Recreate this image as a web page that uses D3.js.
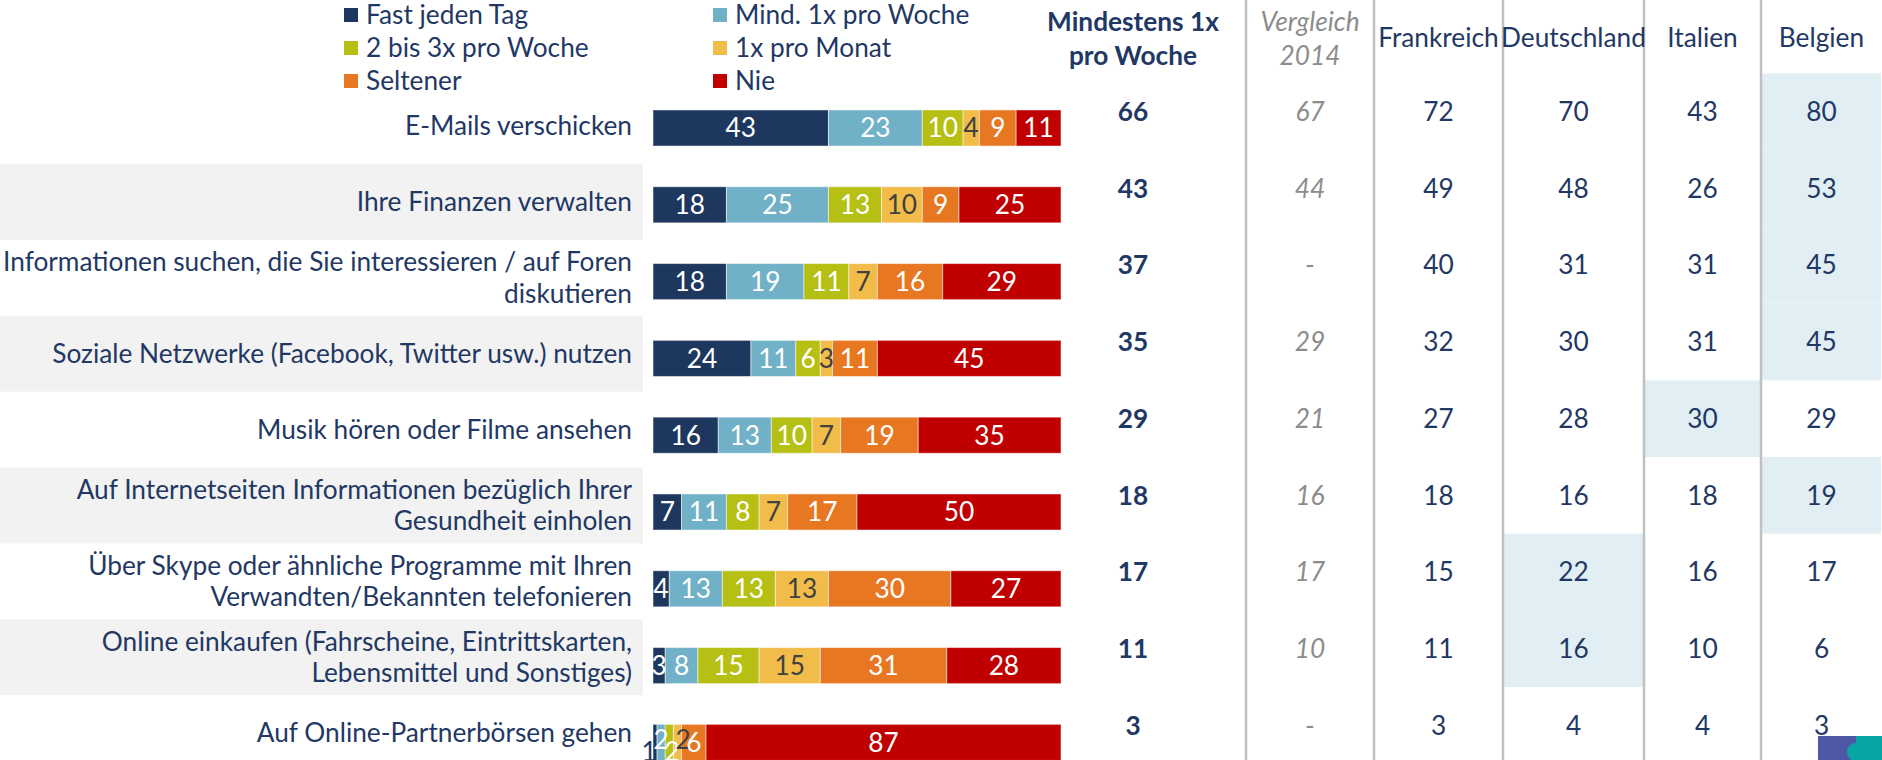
<!DOCTYPE html>
<html>
<head>
<meta charset="utf-8">
<script src="https://cdn.jsdelivr.net/npm/d3@7"></script>
<style>
  body { margin: 0; background: #fff; }
  svg { display: block; font-family: Lato, sans-serif; }
</style>
</head>
<body>
<svg id="chart"></svg>
<script>
// activities (line breaks as in the reference)
const categories = [
  'E-Mails verschicken',
  'Ihre Finanzen verwalten',
  'Informationen suchen, die Sie interessieren / auf Foren\ndiskutieren',
  'Soziale Netzwerke (Facebook, Twitter usw.) nutzen',
  'Musik hören oder Filme ansehen',
  'Auf Internetseiten Informationen bezüglich Ihrer\nGesundheit einholen',
  'Über Skype oder ähnliche Programme mit Ihren\nVerwandten/Bekannten telefonieren',
  'Online einkaufen (Fahrscheine, Eintrittskarten,\nLebensmittel und Sonstiges)',
  'Auf Online-Partnerbörsen gehen'
];

const seriesNames = ['Fast jeden Tag', 'Mind. 1x pro Woche', '2 bis 3x pro Woche', '1x pro Monat', 'Seltener', 'Nie'];
const seriesColors = ['#1d375e', '#71b1c8', '#b6bf14', '#f1bc49', '#e87722', '#c00000'];

const fastJedenTag = [43, 18, 18, 24, 16, 7, 4, 3, 1];
const mind1xWoche  = [23, 25, 19, 11, 13, 11, 13, 8, 2];
const zweiBis3x    = [10, 13, 11, 6, 10, 8, 13, 15, 2];
const einmalMonat  = [4, 10, 7, 3, 7, 7, 13, 15, 2];
const seltener     = [9, 9, 16, 11, 19, 17, 30, 31, 6];
const nie          = [11, 25, 29, 45, 35, 50, 27, 28, 87];

// table on the right
const tableColumns = ['Mindestens 1x\npro Woche', 'Vergleich\n2014', 'Frankreich', 'Deutschland', 'Italien', 'Belgien'];
const mindestens1x  = [66, 43, 37, 35, 29, 18, 17, 11, 3];
const vergleich2014 = [67, 44, null, 29, 21, 16, 17, 10, null];
const frankreich    = [72, 49, 40, 32, 27, 18, 15, 11, 3];
const deutschland   = [70, 48, 31, 30, 28, 16, 22, 16, 4];
const italien       = [43, 26, 31, 31, 30, 18, 16, 10, 4];
const belgien       = [80, 53, 45, 45, 29, 19, 17, 6, 3];
// highest country per row: [row, column]
const highlights = [[0, 5], [1, 5], [2, 5], [3, 5], [4, 4], [5, 5], [6, 3], [7, 3]];

const width = 1882, height = 760;
const navy = '#1f3864', grey = '#8c8c8c';

const svg = d3.select('#chart')
    .attr('width', width)
    .attr('height', height);

// font size: fit the longest label to the reference width
const probe = svg.append('text').attr('font-size', 100)
    .text('Informationen suchen, die Sie interessieren / auf Foren');
const fs = 100 * 629 / probe.node().getComputedTextLength();
probe.remove();

const rows = d3.range(categories.length);
const seriesData = [fastJedenTag, mind1xWoche, zweiBis3x, einmalMonat, seltener, nie];
const tableData = [mindestens1x, vergleich2014, frankreich, deutschland, italien, belgien];

const table = rows.map(i => {
  const d = {row: i};
  seriesNames.forEach((s, k) => d[s] = seriesData[k][i]);
  return d;
});
const stacked = d3.stack().keys(seriesNames)(table);

// scales
const x = d3.scaleLinear().domain([0, 100]).range([653, 1061]);
const yBar = d3.scaleBand().domain(rows).range([89.6, 780.8]).paddingInner(0.53).paddingOuter(0.265);
const yLabel = d3.scaleBand().domain(rows).range([88, 88 + 9 * 75.9]);
const yTable = d3.scaleBand().domain(rows).range([73.5, 73.5 + 9 * 76.7]);
const color = d3.scaleOrdinal().domain(seriesNames).range(seriesColors);
const colEdges = [1020, 1246, 1374, 1503, 1644, 1761, 1882];
const colLeft = d3.scaleOrdinal().domain(d3.range(6)).range(colEdges.slice(0, -1));
const colRight = d3.scaleOrdinal().domain(d3.range(6)).range(colEdges.slice(1));
const colMid = c => (colLeft(c) + colRight(c)) / 2;

// grey bands behind every second label
svg.append('g').selectAll('rect')
    .data(rows.filter(i => i % 2 === 1))
    .join('rect')
    .attr('x', 0)
    .attr('width', 643)
    .attr('y', i => yLabel(i))
    .attr('height', yLabel.bandwidth())
    .attr('fill', '#f2f2f2');

// highlighted table cells
svg.append('g').selectAll('rect')
    .data(highlights)
    .join('rect')
    .attr('x', d => colLeft(d[1]) + 1)
    .attr('width', d => colRight(d[1]) - colLeft(d[1]) - 2)
    .attr('y', d => yTable(d[0]))
    .attr('height', yTable.bandwidth())
    .attr('fill', '#e1eff4');

// column separators
svg.append('g').selectAll('line')
    .data(colEdges.slice(1, -1))
    .join('line')
    .attr('x1', d => d).attr('x2', d => d)
    .attr('y1', 0).attr('y2', height)
    .attr('stroke', '#c0c0c0')
    .attr('stroke-width', 2.5);

// row labels
const labels = svg.append('g')
    .attr('font-size', fs)
    .attr('fill', navy)
    .attr('text-anchor', 'end');
labels.selectAll('text')
    .data(rows)
    .join('text')
    .each(function(i) {
      const lines = categories[i].split('\n');
      const cy = yLabel(i) + yLabel.bandwidth() / 2;
      const lh = fs * 1.2;
      d3.select(this).selectAll('tspan')
          .data(lines)
          .join('tspan')
          .attr('x', 632)
          .attr('y', (l, j) => cy + (j - (lines.length - 1) / 2) * lh)
          .attr('dy', '0.35em')
          .text(l => l);
    });

// stacked bars
svg.append('g').selectAll('g')
    .data(stacked)
    .join('g')
    .attr('fill', d => color(d.key))
  .selectAll('rect')
    .data(d => d)
    .join('rect')
    .attr('x', d => x(d[0]))
    .attr('width', d => x(d[1]) - x(d[0]))
    .attr('y', d => yBar(d.data.row))
    .attr('height', yBar.bandwidth())
    .attr('stroke', '#ffffff')
    .attr('stroke-opacity', 0.5)
    .attr('stroke-width', 1);

// segment labels, tiny segments are dodged so the digits stay readable
const segLabels = [];
rows.forEach(i => {
  let lastX = -Infinity;
  stacked.forEach((s, k) => {
    const v = s[i][1] - s[i][0];
    const tiny = v < 3;
    let lx = (x(s[i][0]) + x(s[i][1])) / 2;
    let dy = 0;
    if (tiny) {
      if (v < 2) lx -= 6;
      lx = Math.max(lx, lastX + 11);
      dy = k % 2 === 0 ? 9 : -3;
    }
    lastX = lx;
    let fill = s.key === '1x pro Monat' ? '#404040' : '#ffffff';
    if (lx < x(0)) fill = navy;
    segLabels.push({x: lx, y: yBar(i) + yBar.bandwidth() / 2 + dy, v: v, fill: fill});
  });
});

svg.append('g')
    .attr('font-size', fs)
    .attr('text-anchor', 'middle')
  .selectAll('text')
    .data(segLabels)
    .join('text')
    .attr('x', d => d.x)
    .attr('y', d => d.y)
    .attr('dy', '0.36em')
    .attr('fill', d => d.fill)
    .text(d => d.v);

// table headers
const headers = svg.append('g').attr('font-size', fs).attr('text-anchor', 'middle');
headers.selectAll('text')
    .data(tableColumns)
    .join('text')
    .attr('fill', (d, c) => c === 1 ? grey : navy)
    .attr('font-weight', (d, c) => c === 0 ? 'bold' : null)
    .attr('font-style', (d, c) => c === 1 ? 'italic' : null)
    .each(function(d, c) {
      const lines = d.split('\n');
      d3.select(this).selectAll('tspan')
          .data(lines)
          .join('tspan')
          .attr('x', colMid(c))
          .attr('y', (l, j) => lines.length === 1 ? 38 : 22 + j * 34)
          .attr('dy', '0.35em')
          .text(l => l);
    });

// table values
const cells = svg.append('g').attr('font-size', fs).attr('text-anchor', 'middle');
tableData.forEach((col, c) => {
  cells.append('g')
      .attr('fill', c === 1 ? grey : navy)
      .attr('font-weight', c === 0 ? 'bold' : null)
      .attr('font-style', c === 1 ? 'italic' : null)
      .selectAll('text')
      .data(col)
      .join('text')
      .attr('x', colMid(c))
      .attr('y', (v, i) => yTable(i) + yTable.bandwidth() / 2)
      .attr('dy', '0.35em')
      .attr('font-style', v => v === null ? 'normal' : null)
      .text(v => v === null ? '-' : v);
});

// legend
const legend = svg.append('g').attr('font-size', fs).attr('fill', navy);
const legendItem = legend.selectAll('g')
    .data(seriesNames)
    .join('g')
    .attr('transform', (d, i) => `translate(${i % 2 === 0 ? 344 : 713},${15 + Math.floor(i / 2) * 33})`);
legendItem.append('rect')
    .attr('y', -7)
    .attr('width', 14)
    .attr('height', 14)
    .attr('fill', d => color(d));
legendItem.append('text')
    .attr('x', 22)
    .attr('dy', '0.35em')
    .text(d => d);

// logo corner
const logo = svg.append('g').attr('transform', 'translate(1818,736)');
logo.append('rect').attr('width', 38).attr('height', 24).attr('fill', '#4e58a6');
logo.append('rect').attr('x', 38).attr('width', 26).attr('height', 24).attr('fill', '#0aa5a5');
logo.append('circle').attr('cx', 38).attr('cy', 16).attr('r', 9).attr('fill', '#0aa5a5');
</script>
</body>
</html>
